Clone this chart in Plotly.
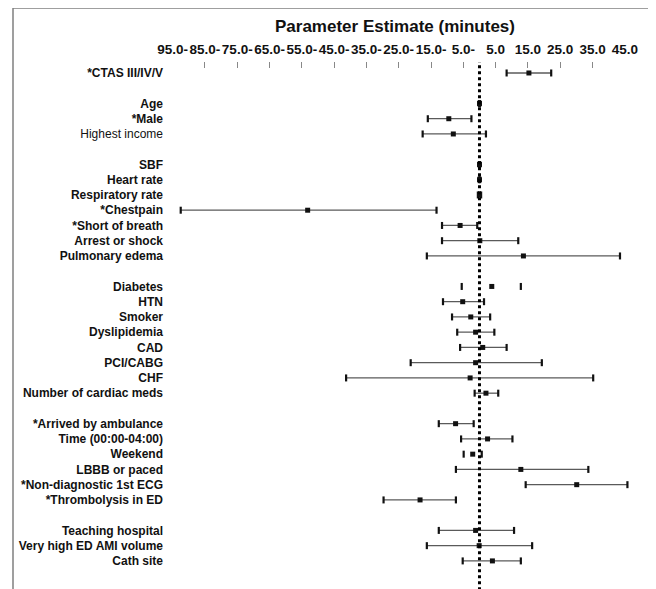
import plotly.graph_objects as go

# Rows top to bottom; None marks a blank separator row
labels = ["*CTAS III/IV/V", None,
          "Age", "*Male", "Highest income", None,
          "SBF", "Heart rate", "Respiratory rate", "*Chestpain", "*Short of breath",
          "Arrest or shock", "Pulmonary edema", None,
          "Diabetes", "HTN", "Smoker", "Dyslipidemia", "CAD", "PCI/CABG", "CHF",
          "Number of cardiac meds", None,
          "*Arrived by ambulance", "Time (00:00-04:00)", "Weekend", "LBBB or paced",
          "*Non-diagnostic 1st ECG", "*Thrombolysis in ED", None,
          "Teaching hospital", "Very high ED AMI volume", "Cath site"]

estimate = [15.3, None,
            0.0, -9.5, -8.1, None,
            0.0, 0.0, 0.0, -53.2, -6.0, 0.1, 13.6, None,
            3.8, -5.2, -2.7, -1.2, 1.0, -1.2, -2.9, 2.0, None,
            -7.4, 2.5, -2.1, 12.8, 30.1, -18.4, None,
            -1.2, -0.1, 4.0]

ci_low = [8.4, None,
          -0.2, -16.0, -17.6, None,
          -0.2, -0.2, -0.5, -92.5, -11.6, -11.6, -16.3, None,
          -5.5, -11.3, -8.5, -6.9, -6.0, -21.3, -41.3, -1.5, None,
          -12.6, -5.7, -4.9, -7.3, 14.3, -29.7, None,
          -12.6, -16.3, -5.2]

ci_high = [22.2, None,
           0.2, -2.5, 2.0, None,
           0.2, 0.2, 0.5, -13.3, -0.7, 12.0, 43.5, None,
           12.8, 1.4, 3.3, 4.6, 8.4, 19.3, 35.2, 5.8, None,
           -1.8, 10.2, 0.7, 33.7, 45.8, -7.3, None,
           10.7, 16.3, 12.8]

# Rows whose interval line is not visible in the original
no_ci_line = ["Diabetes", "Weekend"]
regular_labels = ["Highest income"]

tick_vals = [-95, -85, -75, -65, -55, -45, -35, -25, -15, -5, 5, 15, 25, 35, 45]
tick_text = ["95.0-", "85.0-", "75.0-", "65.0-", "55.0-", "45.0-", "35.0-", "25.0-",
             "15.0-", "5.0-", "5.0", "15.0", "25.0", "35.0", "45.0"]
tick_mark_vals = [-85, -75, -65, -55, -45, -35, -25, -15, -5, 5, 15, 25, 35]

rows = [i for i, l in enumerate(labels) if l is not None]

seg_x, seg_y = [], []
end_x, end_y = [], []
for i in rows:
    if labels[i] not in no_ci_line:
        seg_x += [ci_low[i], ci_high[i], None]
        seg_y += [i, i, None]
    end_x += [ci_low[i], ci_high[i]]
    end_y += [i, i]

fig = go.Figure()
fig.add_trace(go.Scatter(x=seg_x, y=seg_y, mode="lines",
                         line=dict(color="#5a5a5a", width=1.3),
                         hoverinfo="skip", showlegend=False))
fig.add_trace(go.Scatter(x=end_x, y=end_y, mode="markers",
                         marker=dict(symbol="line-ns", size=5,
                                     line=dict(color="#111", width=2.2)),
                         hoverinfo="skip", showlegend=False))
fig.add_trace(go.Scatter(x=[estimate[i] for i in rows], y=rows, mode="markers",
                         marker=dict(symbol="square", size=5, color="#111"),
                         showlegend=False))
fig.add_trace(go.Scatter(x=[None], y=[None], xaxis="x2", showlegend=False,
                         hoverinfo="skip"))

fig.add_vline(x=0, line=dict(color="#000", width=3, dash="dot"),
              y0=-0.01, y1=1.0)

ytext = []
for i in rows:
    l = labels[i]
    ytext.append(l if l in regular_labels else "<b>" + l + "</b>")

# page body has an 8px margin, so the figure is drawn 8px in from the top-left
W, H = 648, 581
px0, px1, py0, py1 = 162, 642, 54, 577

xr = [-95.82, 52.79]
fig.update_layout(
    width=W, height=H,
    margin=dict(l=px0, r=W - px1, t=py0, b=H - py1, autoexpand=False),
    paper_bgcolor="white", plot_bgcolor="white",
    font=dict(family="Liberation Sans, Arial, sans-serif", color="#111"),
    title=dict(text="<b>Parameter Estimate (minutes)</b>", x=387 / W, xanchor="center",
               y=1 - 18 / H, yanchor="middle", font=dict(size=17, color="#111")),
    xaxis=dict(side="top", range=xr, tickmode="array", tickvals=tick_vals,
               ticktext=tick_text, ticks="", showgrid=False, zeroline=False,
               showline=False, ticklabelstandoff=4, tickangle=0, automargin=False,
               tickfont=dict(size=13.5, weight="bold", color="#111")),
    xaxis2=dict(overlaying="x", side="top", anchor="y", range=xr, tickmode="array",
                tickvals=tick_mark_vals, ticks="inside", ticklen=6, tickwidth=1,
                tickcolor="#888", showticklabels=False, showgrid=False,
                zeroline=False, showline=False, automargin=False),
    yaxis=dict(range=[33.58, -0.72], tickmode="array", tickvals=rows, ticktext=ytext,
               ticks="", showgrid=False, zeroline=False, showline=False,
               ticklabelstandoff=6, automargin=False,
               tickfont=dict(size=12, color="#111")),
)

# open frame around the figure (left, top, right)
def fx(p): return (p - px0) / (px1 - px0)
def fy(p): return (py1 - p) / (py1 - py0)
fig.add_shape(type="path", xref="paper", yref="paper",
              path=f"M {fx(5)} {fy(H + 2)} L {fx(5)} {fy(0)} L {fx(643)} {fy(0)} L {fx(643)} {fy(H + 2)}",
              line=dict(color="#808080", width=1.5))

fig.write_html("out.html")
